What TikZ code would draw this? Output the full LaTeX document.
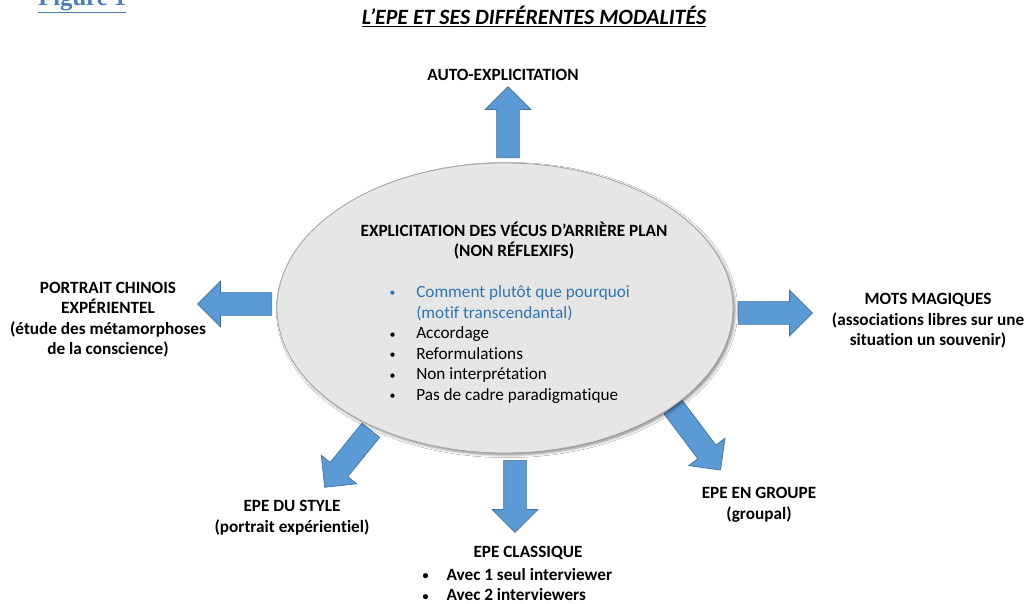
\documentclass[tikz,border=0pt]{standalone}
\usepackage{fontspec}
\setmainfont{Carlito}[Ligatures=NoCommon]
\newfontfamily\figfont{Liberation Serif}
\usetikzlibrary{shapes.geometric,shapes.arrows,shadows.blur,positioning}

\definecolor{arrowblue}{HTML}{5B9BD5}
\definecolor{arrowedge}{HTML}{41719C}
\definecolor{corefill}{HTML}{E7E6E6}
\definecolor{coreedge}{HTML}{A5A5A5}
\definecolor{itemblue}{HTML}{2E75B6}
\definecolor{figblue}{HTML}{4A7EBB}

\newcommand{\puce}[1][21pt]{\makebox[#1][l]{\hspace{1pt}\raisebox{0.5pt}{\fontsize{9}{9}\selectfont\textbullet}}}

\begin{document}
\begin{tikzpicture}[x=0.75pt,y=-0.75pt,
  lbl/.style={font=\bfseries\fontsize{12.9}{15.4}\selectfont, align=center, inner sep=0pt},
  item/.style={font=\fontsize{12.9}{15.4}\selectfont, align=left, inner sep=0pt},
  bigarrow/.style={single arrow, draw=arrowedge, fill=arrowblue, line width=0.5pt,
    inner sep=0pt, inner ysep=8.25pt, single arrow head extend=8.6pt,
    single arrow tip angle=90, anchor=tail},
  core/.style={ellipse, draw=coreedge, fill=corefill, line width=0.6pt,
    minimum width=342pt, minimum height=217.5pt, inner sep=0pt,
    blur shadow={shadow xshift=1.5pt, shadow yshift=-1.5pt, shadow blur radius=2pt, shadow opacity=45}}]

\useasboundingbox[fill=white] (0,0) rectangle (1027,603);

% heading of the page, cut at the top
\node[anchor=base west, inner sep=0pt, text=figblue, font=\figfont\bfseries\fontsize{18.5}{20}\selectfont] (fig) at (38,5) {\underline{Figure 1}};
\node[anchor=base, inner sep=0pt, font=\bfseries\itshape\fontsize{16.4}{18}\selectfont] (title) at (534,24) {\underline{L’EPE ET SES DIFFÉRENTES MODALITÉS}};

% block arrows (behind the ellipse)
\node[bigarrow, minimum height=53.25pt, rotate=90] (toauto) at (508,158) {};
\node[bigarrow, minimum height=55.5pt, rotate=180] (toportrait) at (272,304) {};
\node[bigarrow, minimum height=55.5pt, rotate=0] (tomots) at (738,313) {};
\node[bigarrow, minimum height=54pt, rotate=-90] (toclassique) at (515,460) {};
\node[bigarrow, minimum height=55pt, rotate=231] (tostyle) at (371,430) {};
\node[bigarrow, minimum height=59pt, rotate=-53] (togroupe) at (673,407) {};

% central ellipse
\node[core] (core) at (505,308) {};
\node[lbl] (coretitle) at (514,240.5) {EXPLICITATION DES VÉCUS D’ARRIÈRE PLAN\\(NON RÉFLEXIFS)};
\node[item, anchor=west] (corelist) at (388,344.5) {%
  \textcolor{itemblue}{\puce Comment plutôt que pourquoi}\\
  \textcolor{itemblue}{\hspace*{21pt}(motif transcendantal)}\\
  \puce Accordage\\
  \puce Reformulations\\
  \puce Non interprétation\\
  \puce Pas de cadre paradigmatique};

% labels
\node[lbl] (auto) at (503,75) {AUTO-EXPLICITATION};
\node[lbl] (portrait) at (108,319.5) {PORTRAIT CHINOIS\\EXPÉRIENTEL\\(étude des métamorphoses\\de la conscience)};
\node[lbl] (mots) at (928,321) {MOTS MAGIQUES\\(associations libres sur une\\situation un souvenir)};
\node[lbl] (style) at (292,517.5) {EPE DU STYLE\\(portrait expérientiel)};
\node[lbl] (groupe) at (759,505) {EPE EN GROUPE\\(groupal)};
\node[lbl] (classique) at (528,553) {EPE CLASSIQUE};
\node[item, font=\bfseries\fontsize{12.9}{15.4}\selectfont, anchor=west] (classlist) at (421,584.5) {%
  \puce[19pt]Avec 1 seul interviewer\\
  \puce[19pt]Avec 2 interviewers};

\end{tikzpicture}
\end{document}
